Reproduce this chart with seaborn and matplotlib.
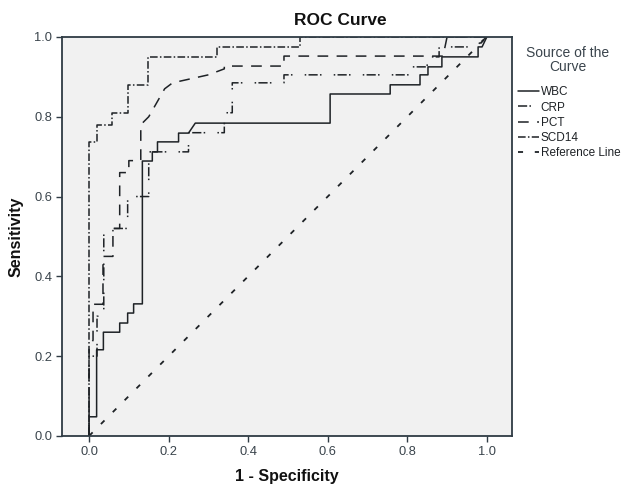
import matplotlib
matplotlib.use("Agg")
import matplotlib.pyplot as plt
import seaborn as sns

# ROC curve vertices (1 - specificity, sensitivity)
wbc_x = [0, 0, 0.019, 0.019, 0.036, 0.036, 0.077, 0.077, 0.097, 0.097, 0.112, 0.112,
         0.134, 0.134, 0.159, 0.159, 0.172, 0.172, 0.225, 0.225, 0.25, 0.267, 0.606,
         0.606, 0.757, 0.757, 0.832, 0.832, 0.852, 0.852, 0.887, 0.887, 0.978, 0.978,
         0.988, 1.0]
wbc_y = [0, 0.048, 0.048, 0.216, 0.216, 0.26, 0.26, 0.283, 0.283, 0.308, 0.308, 0.331,
         0.331, 0.689, 0.689, 0.712, 0.712, 0.737, 0.737, 0.759, 0.759, 0.784, 0.784,
         0.857, 0.857, 0.88, 0.88, 0.905, 0.905, 0.925, 0.925, 0.95, 0.95, 0.975,
         0.975, 1.0]

crp_x = [0, 0, 0.02, 0.02, 0.037, 0.037, 0.06, 0.06, 0.097, 0.097, 0.15, 0.15, 0.25,
         0.25, 0.34, 0.34, 0.36, 0.36, 0.49, 0.49, 0.81, 0.81, 0.85, 0.85, 0.88, 0.88,
         0.97, 1.0]
crp_y = [0, 0.2, 0.2, 0.3, 0.3, 0.51, 0.51, 0.52, 0.52, 0.6, 0.6, 0.712, 0.712, 0.76,
         0.76, 0.81, 0.81, 0.885, 0.885, 0.905, 0.905, 0.925, 0.925, 0.95, 0.95, 0.975,
         0.975, 1.0]

pct_x = [0, 0, 0.01, 0.01, 0.035, 0.035, 0.06, 0.06, 0.077, 0.077, 0.1, 0.1, 0.13,
         0.13, 0.15, 0.19, 0.21, 0.3, 0.34, 0.34, 0.49, 0.49, 0.89, 0.9, 1.0]
pct_y = [0, 0.22, 0.24, 0.33, 0.33, 0.45, 0.45, 0.52, 0.52, 0.66, 0.66, 0.69, 0.69,
         0.78, 0.8, 0.87, 0.885, 0.905, 0.92, 0.927, 0.927, 0.952, 0.952, 1.0, 1.0]

scd14_x = [0, 0, 0.019, 0.019, 0.057, 0.057, 0.097, 0.097, 0.149, 0.149, 0.322, 0.322,
           0.531, 0.531, 1.0]
scd14_y = [0, 0.737, 0.737, 0.78, 0.78, 0.81, 0.81, 0.88, 0.88, 0.95, 0.95, 0.975,
           0.975, 1.0, 1.0]

ref_x = [0, 1]
ref_y = [0, 1]

dark = "#2f3b44"
sns.set_theme(style="white")
plt.rcParams["font.family"] = ["Liberation Sans", "DejaVu Sans"]

fig = plt.figure(figsize=(6.22, 4.86), dpi=100)
ax = fig.add_axes([0.0997, 0.103, 0.7233, 0.821])
ax.set_facecolor("#f1f1f1")

curves = [
    ("WBC", wbc_x, wbc_y, "-"),
    ("CRP", crp_x, crp_y, (0, (6, 1.5, 1, 8, 1, 1.5))),
    ("PCT", pct_x, pct_y, (0, (7, 5.5))),
    ("SCD14", scd14_x, scd14_y, (0, (5, 1.5, 1, 1.5))),
    ("Reference Line", ref_x, ref_y, (0, (2.8, 6.5))),
]
for name, xs, ys, ls in curves:
    sns.lineplot(x=xs, y=ys, sort=False, estimator=None, ax=ax, color="#1e2226",
                 linewidth=1.1, label=name)
    ax.lines[-1].set_linestyle(ls)
ax.lines[-1].set_linewidth(1.3)

ax.set_xlim(-0.068, 1.063)
ax.set_ylim(0, 1)
ax.set_xticks([0, 0.2, 0.4, 0.6, 0.8, 1.0])
ax.set_yticks([0, 0.2, 0.4, 0.6, 0.8, 1.0])
ax.set_xticklabels(["0.0", "0.2", "0.4", "0.6", "0.8", "1.0"])
ax.set_yticklabels(["0.0", "0.2", "0.4", "0.6", "0.8", "1.0"])
ax.tick_params(direction="out", length=4, width=1, color=dark, labelcolor="#3a444c",
               labelsize=9.3, pad=3, bottom=True, left=True)
for s in ax.spines.values():
    s.set_color(dark)
    s.set_linewidth(1.3)

ax.set_xlabel("1 - Specificity", fontsize=11.5, fontweight="bold", color="#111111", labelpad=8)
ax.set_ylabel("Sensitivity", fontsize=11.5, fontweight="bold", color="#111111", labelpad=8)
fig.text(0.547, 0.958, "ROC Curve", ha="center", va="center", fontsize=12.5,
         fontweight="bold", color="#111111")

# legend title drawn separately so the entries sit where they do in the picture
fig.text(0.913, 0.876, "Source of the\nCurve", ha="center", va="center", fontsize=10,
         color="#3a444c", linespacing=1.0)
leg = ax.legend(loc="upper left", bbox_to_anchor=(1.014, 0.876), frameon=False,
                fontsize=8.5, handlelength=1.8, handletextpad=0.1, labelspacing=0.27,
                borderaxespad=0, borderpad=0)
for t in leg.get_texts():
    t.set_color("#1e2226")

fig.savefig("out.png", dpi=100)
